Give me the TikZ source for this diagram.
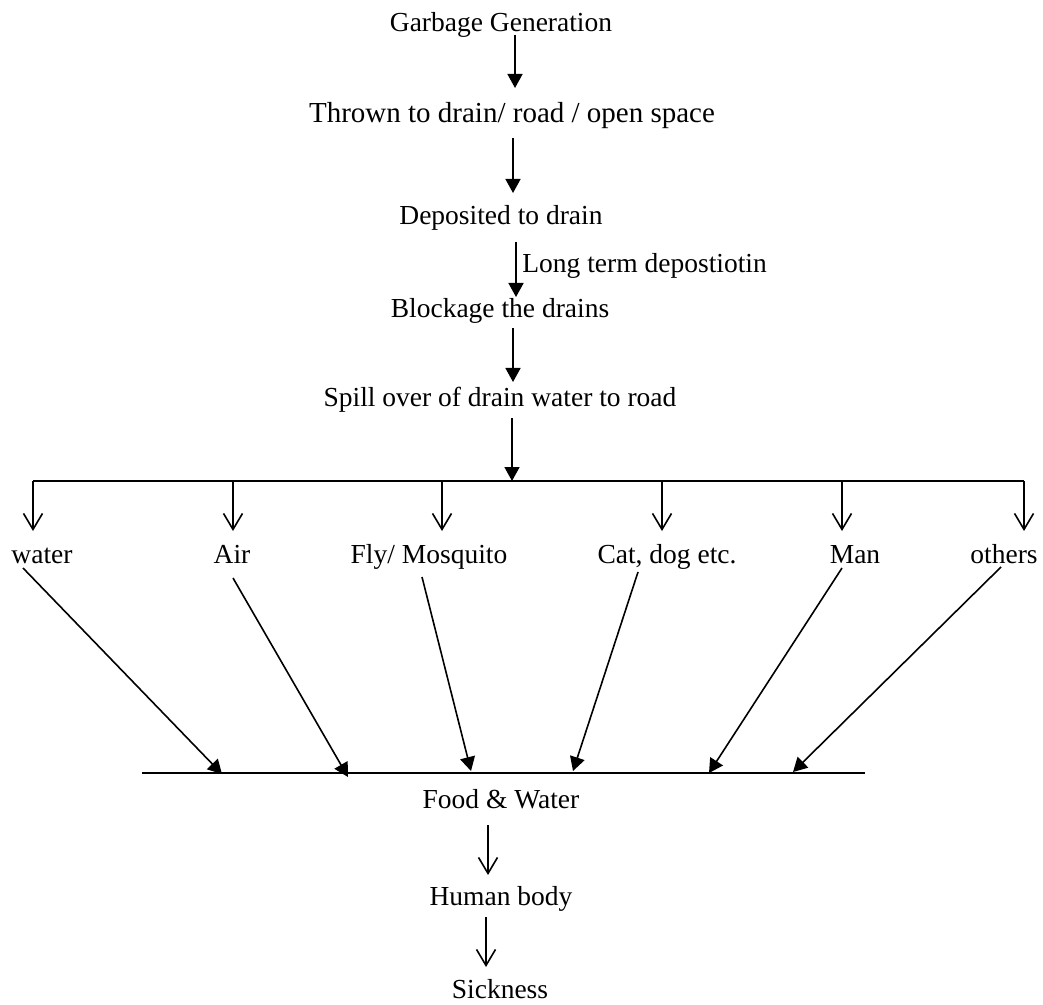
\documentclass[tikz,border=0pt]{standalone}
\usepackage{fontspec}
\setmainfont{Liberation Serif}
\usetikzlibrary{arrows.meta,calc}
\tikzset{
  txt/.style={anchor=base,inner sep=0pt,font=\fontsize{13.75pt}{16pt}\selectfont},
  line/.style={line width=0.8pt},
  solidarrow/.style={line,-{Triangle[length=7pt,width=7.5pt]}},
  openarrow/.style={line,-{Straight Barb[length=8pt,width=9.5pt,line width=0.8pt]}}
}
\begin{document}
\begin{tikzpicture}[x=0.5pt,y=-0.5pt]
\useasboundingbox (0,0) rectangle (1043,1005);

% main chain
\node[txt] (gen) at (501,32)  {Garbage Generation};
\node[txt,font=\fontsize{14.5pt}{17pt}\selectfont] (thr) at (512,123) {Thrown to drain/ road / open space};
\node[txt] (dep) at (501,225) {Deposited to drain};
\node[txt] (blk) at (500,318) {Blockage the drains};
\node[txt] (spl) at (500,407) {Spill over of drain water to road};
\node[txt,anchor=base west] (lt) at (522,273) {Long term depostiotin};

% carriers
\node[txt] (water)  at (42,563)   {water};
\node[txt] (air)    at (232,563)  {Air};
\node[txt] (fly)    at (429,563)  {Fly/ Mosquito};
\node[txt] (cat)    at (667,563)  {Cat, dog etc.};
\node[txt] (man)    at (855,563)  {Man};
\node[txt] (others) at (1004,563) {others};

% end of the chain
\node[txt] (food)  at (501,808) {Food \& Water};
\node[txt] (human) at (501,905) {Human body};
\node[txt] (sick)  at (500,998) {Sickness};

% vertical steps
\draw[solidarrow] ($(gen.base)+(14,3)$)  -- ($(thr.base)+(3,-35)$);
\draw[solidarrow] ($(thr.base)+(1,15)$)  -- ($(dep.base)+(12,-32)$);
\draw[solidarrow] ($(dep.base)+(15,17)$) -- ($(blk.base)+(16,-21)$);
\draw[solidarrow] ($(blk.base)+(13,10)$) -- ($(spl.base)+(13,-25)$);
\coordinate (bus) at ($(spl.base)+(12,74)$);
\draw[solidarrow] ($(spl.base)+(12,11)$) -- (bus);

% distribution bar and drops
\draw[line] ($(water.base)+(-9,-82)$) -- ($(others.base)+(20,-82)$);
\draw[openarrow] ($(water.base)+(-9,-82)$)  -- ($(water.base)+(-9,-32)$);
\draw[openarrow] ($(air.base)+(1,-82)$)     -- ($(air.base)+(1,-32)$);
\draw[openarrow] ($(fly.base)+(13,-82)$)    -- ($(fly.base)+(13,-32)$);
\draw[openarrow] ($(cat.base)+(-5,-82)$)    -- ($(cat.base)+(-5,-32)$);
\draw[openarrow] ($(man.base)+(-13,-82)$)   -- ($(man.base)+(-13,-32)$);
\draw[openarrow] ($(others.base)+(20,-82)$) -- ($(others.base)+(20,-32)$);

% collecting bar over food and water
\draw[line] ($(food.base)+(-359,-35)$) -- ($(food.base)+(364,-35)$);
\draw[solidarrow] ($(water.base)+(-19,5)$)  -- ($(food.base)+(-279,-34)$);
\draw[solidarrow] ($(air.base)+(1,15)$)     -- ($(food.base)+(-153,-31)$);
\draw[solidarrow] ($(fly.base)+(-7,14)$)    -- ($(food.base)+(-30,-37)$);
\draw[solidarrow] ($(cat.base)+(-29,9)$)    -- ($(food.base)+(72,-37)$);
\draw[solidarrow] ($(man.base)+(-13,5)$)    -- ($(food.base)+(208,-35)$);
\draw[solidarrow] ($(others.base)+(-3,4)$)  -- ($(food.base)+(292,-36)$);

% to the body
\draw[openarrow] ($(food.base)+(-13,17)$)  -- ($(human.base)+(-13,-30)$);
\draw[openarrow] ($(human.base)+(-15,12)$) -- ($(sick.base)+(-14,-31)$);
\end{tikzpicture}
\end{document}
